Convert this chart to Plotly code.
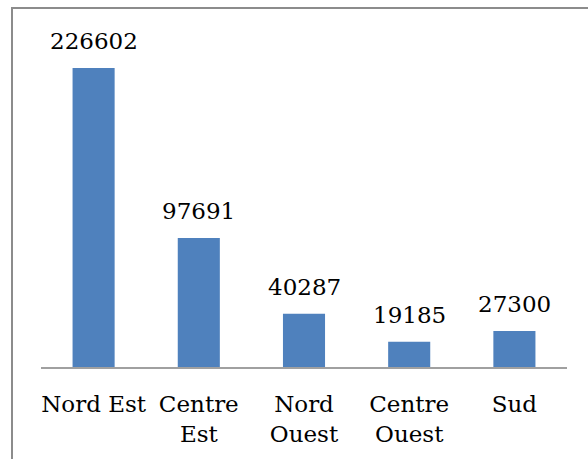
import plotly.graph_objects as go

categories = ["Nord Est", "Centre<br>Est", "Nord<br>Ouest", "Centre<br>Ouest", "Sud"]
values = [226602, 97691, 40287, 19185, 27300]
value_labels = ["226602", "97691", "40287", "19185", "27300"]

W, H = 588, 459
ml, mr, mt, mb = 41, 21, 7, 92
plot_w = W - ml - mr
plot_h = H - mt - mb
ymax = 226602 * plot_h / 299.0

font = dict(family="DejaVu Serif", size=23, color="#000000")

fig = go.Figure(go.Bar(x=categories, y=values, marker=dict(color="#4f81bd", line=dict(width=0)),
                       hoverinfo="skip"))

for c, v, t in zip(categories, values, value_labels):
    fig.add_annotation(x=c, y=v, text=t, showarrow=False, yanchor="bottom", yshift=12, font=font)

fig.add_shape(type="rect", xref="paper", yref="paper",
              x0=(12 - ml) / plot_w, x1=(W + 20 - ml) / plot_w,
              y0=-(H + 20 - mt - plot_h) / plot_h, y1=1.0 - 1.0 / plot_h,
              line=dict(color="#8c8c8c", width=2), fillcolor="rgba(0,0,0,0)", layer="below")

fig.update_layout(
    width=W, height=H,
    margin=dict(l=ml, r=mr, t=mt, b=mb),
    paper_bgcolor="white", plot_bgcolor="white",
    bargap=0.6, showlegend=False, font=font,
    xaxis=dict(showline=True, linecolor="#a0a0a0", linewidth=2, ticks="outside", ticklen=15,
               tickcolor="rgba(0,0,0,0)", tickfont=font, showgrid=False, zeroline=False),
    yaxis=dict(range=[0, ymax], visible=False, showgrid=False, zeroline=False),
)

fig.write_html("out.html")
